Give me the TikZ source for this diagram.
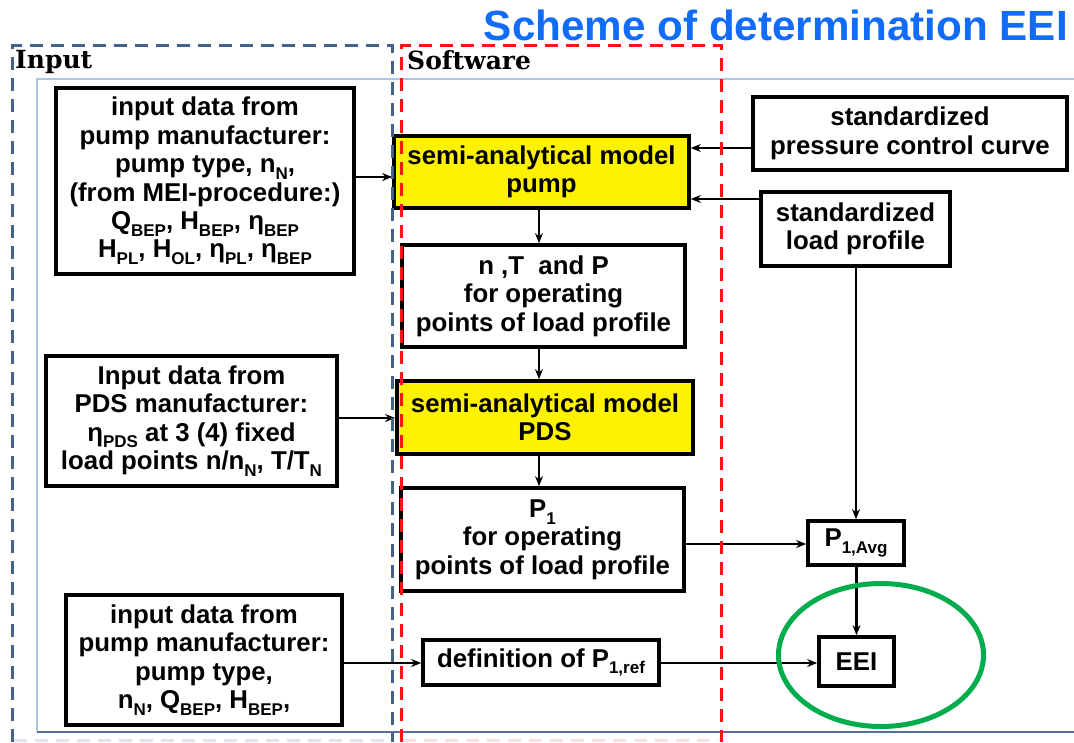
\documentclass[tikz,border=0pt]{standalone}
\usepackage{fontspec}
\setmainfont{Liberation Sans}
\newfontfamily\labfont{DejaVu Serif}
\usetikzlibrary{arrows.meta,calc}
\definecolor{titleblue}{RGB}{18,108,250}
\definecolor{inblue}{RGB}{68,98,138}
\definecolor{swred}{RGB}{250,20,20}
\definecolor{framec}{RGB}{175,195,228}
\definecolor{botc}{RGB}{85,110,155}
\definecolor{eeigreen}{RGB}{0,172,76}
\definecolor{paleblue}{RGB}{225,228,235}
\definecolor{palered}{RGB}{250,225,225}
\newcommand\sbs[1]{\raisebox{-0.26em}{\fontsize{17}{17}\selectfont #1}}
\begin{document}
\begin{tikzpicture}[x=1pt,y=-1pt,
  box/.style={draw=black, line width=3.7pt, fill=white, align=center, inner sep=0pt,
    font=\bfseries\fontsize{25.8}{28.4}\selectfont},
  ybox/.style={box, fill=yellow},
  arr/.style={line width=2.2pt, -{Stealth[length=10pt,width=8pt]}},
  dashin/.style={draw=inblue, line width=3pt, dash pattern=on 13pt off 8pt},
  dashsw/.style={draw=swred, line width=3pt, dash pattern=on 13pt off 8pt},
  lab/.style={anchor=base west, inner sep=0pt, font=\labfont\bfseries\fontsize{25}{27}\selectfont}
  ]
\useasboundingbox (0,0) rectangle (1074,742);
% frame
\draw[framec, line width=1.3pt] (1074,79) -- (37,79) -- (37,731);
\draw[botc, line width=1.6pt] (37,732) -- (1074,732);
% title and labels
\node[anchor=base east, inner sep=0pt, text=titleblue, font=\bfseries\fontsize{42.2}{45}\selectfont] (title) at (1068,40) {Scheme of determination EEI};
\node[lab] (inlab) at (15,68) {Input};
\node[lab] (swlab) at (407,69) {Software};
% boxes
\node[box, minimum width=298pt, minimum height=186pt] (A) at (205,181) {input data from\\pump manufacturer:\\pump type, n\sbs{N},\\(from MEI-procedure:)\\Q\sbs{BEP}, H\sbs{BEP}, η\sbs{BEP}\\H\sbs{PL}, H\sbs{OL}, η\sbs{PL}, η\sbs{BEP}};
\node[ybox, minimum width=295pt, minimum height=72pt] (Y1) at (541.5,172) {semi-analytical model\\pump};
\node[box, minimum width=314pt, minimum height=73pt] (PCC) at (910,133.5) {standardized\\pressure control curve};
\node[box, minimum width=189pt, minimum height=74pt] (LP) at (855.5,229) {standardized\\load profile};
\node[box, minimum width=283pt, minimum height=102pt] (NTP) at (543.5,296) {n ,T\ \ and P\\for operating\\points of load profile};
\node[box, minimum width=291pt, minimum height=130pt] (B) at (191.5,421) {Input data from\\PDS manufacturer:\\η\sbs{PDS} at 3 (4) fixed\\load points n/n\sbs{N}, T/T\sbs{N}};
\node[ybox, minimum width=296pt, minimum height=73pt] (PDS) at (545,417.5) {semi-analytical model\\PDS};
\node[box, minimum width=283pt, minimum height=103pt] (P1) at (542.5,539.5) {P\sbs{1}\\for operating\\points of load profile};
\node[box, minimum width=96pt, minimum height=44pt] (PAVG) at (856,543) {P\sbs{1,Avg}};
\node[box, minimum width=276pt, minimum height=130pt] (C) at (204,660) {input data from\\pump manufacturer:\\pump type,\\n\sbs{N}, Q\sbs{BEP}, H\sbs{BEP},};
\node[box, minimum width=236pt, minimum height=45pt] (DEF) at (541,662.5) {definition of P\sbs{1,ref}};
\node[box, minimum width=75pt, minimum height=49pt] (EEI) at (856.5,661.5) {EEI};
% helper rows
\coordinate (rA) at (0,177);
\coordinate (rPCC) at (0,148);
\coordinate (rLP) at (0,199);
\coordinate (rB) at (0,418);
\coordinate (rP1) at (0,544);
\coordinate (rC) at (0,663);
\coordinate (cx) at (539,0);
% connectors
\draw[arr] (A.east |- rA) -- (Y1.west |- rA);
\draw[arr] (PCC.west |- rPCC) -- (Y1.east |- rPCC);
\draw[arr] (LP.west |- rLP) -- (Y1.east |- rLP);
\draw[arr] (Y1.south -| cx) -- (NTP.north -| cx);
\draw[arr] (NTP.south -| cx) -- (PDS.north -| cx);
\draw[arr] (PDS.south -| cx) -- (P1.north -| cx);
\draw[arr] (B.east |- rB) -- (PDS.west |- rB);
\draw[arr] (LP.south -| PAVG.north) -- (PAVG.north);
\draw[arr] (P1.east |- rP1) -- (PAVG.west |- rP1);
\draw[arr] (PAVG.south -| EEI.north) -- (EEI.north);
\draw[arr] (C.east |- rC) -- (DEF.west |- rC);
\draw[arr] (DEF.east |- rC) -- (EEI.west |- rC);
% green ellipse
\draw[eeigreen, line width=5pt] (881,655) ellipse [x radius=102.5pt, y radius=71.5pt];
% dashed regions
\draw[dashin] (12,742) -- (12,45.5) -- (392,45.5) -- (392,742);
\draw[dashsw] (401,742) -- (401,45.5) -- (721,45.5) -- (721,742);
\draw[paleblue, line width=3pt, dash pattern=on 13pt off 8pt] (14,740) -- (390,740);
\draw[palered, line width=3pt, dash pattern=on 13pt off 8pt] (403,740) -- (719,740);
\end{tikzpicture}
\end{document}
